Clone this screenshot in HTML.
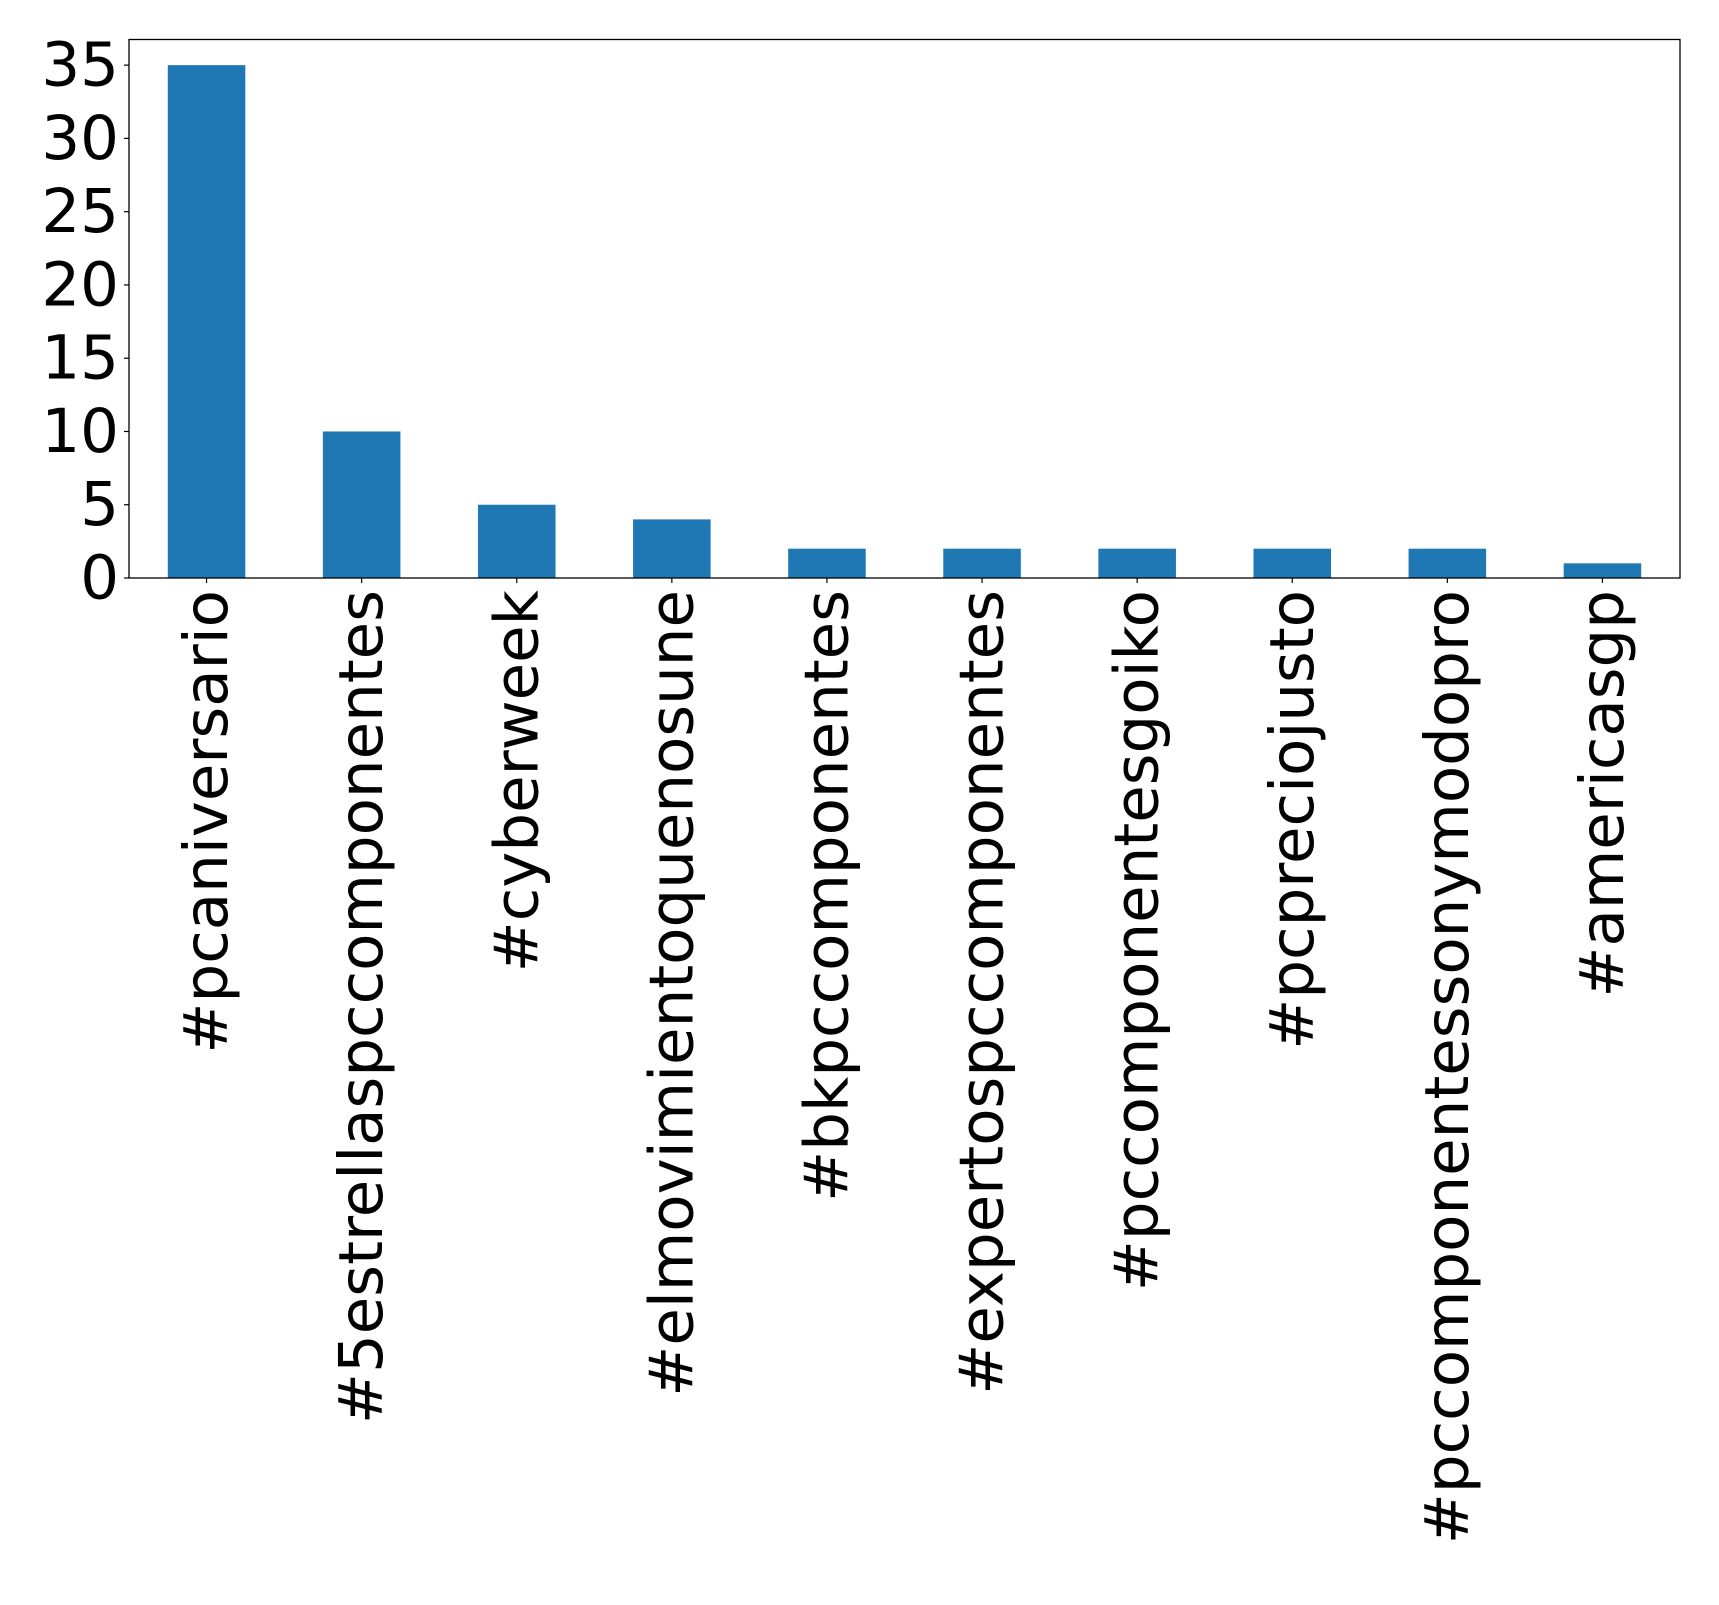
<!DOCTYPE html>
<html><head><meta charset="utf-8"><style>
html,body{margin:0;padding:0;background:#fff;}
svg{display:block;font-family:"DejaVu Sans","Liberation Sans",sans-serif;}
</style></head><body>
<svg id="chart" width="1719" height="1605" xmlns="http://www.w3.org/2000/svg"></svg>
<script>
const categories = ["#pcaniversario","#5estrellaspccomponentes","#cyberweek","#elmovimientoquenosune","#bkpccomponentes","#expertospccomponentes","#pccomponentesgoiko","#pcpreciojusto","#pccomponentessonymodopro","#americasgp"];
const values = [35,10,5,4,2,2,2,2,2,1];
const yTicks = [0,5,10,15,20,25,30,35];

const L=129, R=1680, T=39.5, B=578;
const yMax=36.75;
const svg=document.getElementById('chart');
const NS="http://www.w3.org/2000/svg";
function y(v){return B-(v/yMax)*(B-T);}
const step=(R-L)/categories.length;
function xc(i){return L+step*(i+0.5);}
function mk(tag,attrs){const e=document.createElementNS(NS,tag);for(const k in attrs)e.setAttribute(k,attrs[k]);svg.appendChild(e);return e;}

values.forEach((v,i)=>{
  const r=mk('rect',{x:xc(i)-step/4,y:y(v),width:step/2,height:B-y(v),fill:'#1f77b4'});
  
  
});
const frame=mk('rect',{x:L,y:T,width:R-L,height:B-T,fill:'none',stroke:'#000','stroke-width':1.3});



yTicks.forEach(t=>{
  const tk=mk('line',{x1:L-5,x2:L,y1:y(t),y2:y(t),stroke:'#000','stroke-width':1.2});
  
  
  const tx=mk('text',{x:L-10,y:y(t),'text-anchor':'end','dominant-baseline':'central','font-size':61,fill:'#000'});
  tx.textContent=t;
  
  
});
categories.forEach((c,i)=>{
  const x=xc(i);
  const tk=mk('line',{x1:x,x2:x,y1:B,y2:B+5,stroke:'#000','stroke-width':1.2});
  
  
  const tx=mk('text',{x:0,y:0,'text-anchor':'end','dominant-baseline':'central','font-size':61,fill:'#000',transform:`translate(${x},${B+12}) rotate(-90)`});
  tx.textContent=c;
  
  
});
</script>
</body></html>
